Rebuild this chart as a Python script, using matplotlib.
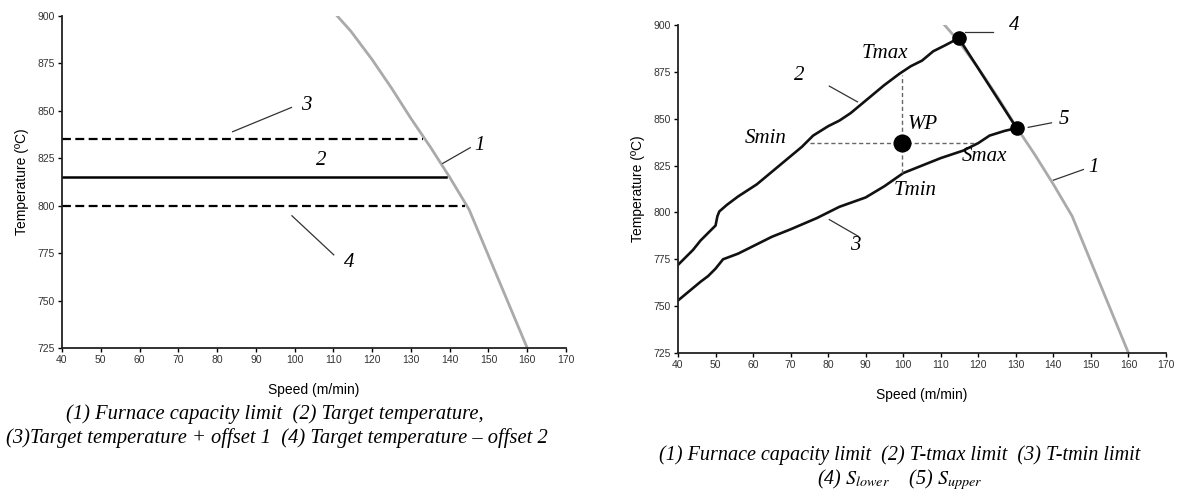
import matplotlib
matplotlib.use("Agg")
import matplotlib.pyplot as plt

plt.rcParams['font.family'] = ['Liberation Sans', 'DejaVu Sans']
plt.rcParams['mathtext.fontset'] = 'stix'

# ---- data ----
capacity_speed = [111, 114.5, 120, 125, 130, 135, 140, 145, 160]
capacity_temp = [900, 892, 877, 862, 846, 831, 815, 798, 725]

target_temp = 815
target_end = 139
upper_offset_temp = 835
upper_offset_end = 133
lower_offset_temp = 800
lower_offset_end = 144

tmax_speed = [40, 42, 44, 46, 48, 50, 50.5, 51, 53, 56, 61, 64, 67, 70, 73, 76, 80,
              83, 86, 89, 92, 95, 99, 102, 105, 108, 111, 114.8]
tmax_temp = [772, 776, 780, 785, 789, 793, 798, 800.5, 804, 808.5, 815, 820, 825, 830,
             835, 841, 846, 849, 853, 858, 863, 868, 874, 878, 881, 886, 889, 893]
tmin_speed = [40, 43, 46, 48, 50, 52, 56, 60, 65, 70, 77, 83, 90, 95, 100, 105, 110,
              116, 120, 123, 127, 130.2]
tmin_temp = [753, 758, 763, 766, 770, 775, 778, 782, 787, 791, 797, 803, 808, 814, 821,
             825, 829, 833, 837, 841, 843.5, 845]

s_lower = (114.8, 893)
s_upper = (130.2, 845)
wp = (99.6, 837)
s_min, s_max = 75.2, 119.5
t_min, t_max = 821, 873.5

xticks = list(range(40, 171, 10))
yticks = list(range(725, 901, 25))

W, H = 1178, 498
fig = plt.figure(figsize=(W / 100, H / 100), dpi=100)

serif = dict(family=['Liberation Serif', 'DejaVu Serif'], style='italic')
LBL = 15


def style_axes(ax):
    ax.set_xlim(40, 170)
    ax.set_ylim(725, 900)
    ax.set_xticks(xticks)
    ax.set_yticks(yticks)
    for s in ['top', 'right']:
        ax.spines[s].set_visible(False)
    for s in ['left', 'bottom']:
        ax.spines[s].set_linewidth(1.3)
        ax.spines[s].set_color('#222222')
    ax.tick_params(direction='out', length=3, width=1, labelsize=7.5,
                   labelcolor='#333333', pad=2)
    ax.set_ylabel('Temperature (ºC)', fontsize=10, labelpad=6)
    ax.set_xlabel('Speed (m/min)', fontsize=10, labelpad=13)


# ---------- left chart ----------
ax1 = fig.add_axes([62 / W, 1 - 348 / H, 504 / W, 332 / H])
style_axes(ax1)
ax1.plot(capacity_speed, capacity_temp, color='#aaaaaa', lw=2)
ax1.plot([40, upper_offset_end], [upper_offset_temp] * 2, color='black', lw=1.6,
         dashes=(4, 2))
ax1.plot([40, target_end], [target_temp] * 2, color='black', lw=1.8)
ax1.plot([40, lower_offset_end], [lower_offset_temp] * 2, color='black', lw=1.6,
         dashes=(4, 2))
# leaders
ax1.plot([84, 99.2], [839, 851.8], color='#333333', lw=0.9)
ax1.plot([138.2, 145.3], [822.3, 830.6], color='#333333', lw=0.9)
ax1.plot([99.3, 110.1], [794.7, 774.1], color='#333333', lw=0.9)
ax1.text(103, 853, '3', ha='center', va='center', fontsize=LBL, **serif)
ax1.text(106.8, 824, '2', ha='center', va='center', fontsize=LBL, **serif)
ax1.text(147.8, 831.6, '1', ha='center', va='center', fontsize=LBL, **serif)
ax1.text(114, 770, '4', ha='center', va='center', fontsize=LBL, **serif)

fig.text(275 / W, 1 - 414 / H, '(1) Furnace capacity limit  (2) Target temperature,',
         ha='center', va='center', fontsize=14.8, **serif)
fig.text(277 / W, 1 - 438 / H,
         '(3)Target temperature + offset 1  (4) Target temperature – offset 2',
         ha='center', va='center', fontsize=14.8, **serif)

# ---------- right chart ----------
ax2 = fig.add_axes([678 / W, 1 - 353 / H, 488 / W, 328 / H])
style_axes(ax2)
ax2.plot(capacity_speed, capacity_temp, color='#aaaaaa', lw=2)
ax2.plot(tmax_speed, tmax_temp, color='#111111', lw=1.9)
ax2.plot(tmin_speed, tmin_temp, color='#111111', lw=1.9)
ax2.plot([s_lower[0], s_upper[0]], [s_lower[1], s_upper[1]], color='#111111', lw=1.9)
# working point guides
ax2.plot([s_min, s_max], [wp[1], wp[1]], color='#666666', lw=1, dashes=(3, 2))
ax2.plot([wp[0], wp[0]], [t_min, t_max], color='#666666', lw=1, dashes=(3, 2))
ax2.plot(*wp, 'o', color='black', ms=12)
ax2.plot(*s_lower, 'o', color='black', ms=9.5)
ax2.plot(*s_upper, 'o', color='black', ms=9.5)
# leaders
ax2.plot([80.3, 87.8], [867.4, 859], color='#333333', lw=0.9)
ax2.plot([80.3, 88], [796.2, 787.3], color='#333333', lw=0.9)
ax2.plot([116.5, 123.8], [896, 896], color='#333333', lw=0.9)
ax2.plot([133.3, 139.5], [845.4, 847.8], color='#333333', lw=0.9)
ax2.plot([140, 148], [817.2, 822.9], color='#333333', lw=0.9)
ax2.text(72.2, 873.3, '2', ha='center', va='center', fontsize=LBL, **serif)
ax2.text(87.1, 782.5, '3', ha='center', va='center', fontsize=LBL, **serif)
ax2.text(129.5, 899.5, '4', ha='center', va='center', fontsize=LBL, **serif)
ax2.text(142.9, 849.6, '5', ha='center', va='center', fontsize=LBL, **serif)
ax2.text(150.6, 824, '1', ha='center', va='center', fontsize=LBL, **serif)
ax2.text(95.1, 885, 'Tmax', ha='center', va='center', fontsize=LBL, **serif)
ax2.text(63.4, 839.5, 'Smin', ha='center', va='center', fontsize=LBL, **serif)
ax2.text(105.3, 847.1, 'WP', ha='center', va='center', fontsize=LBL, **serif)
ax2.text(121.5, 829.7, 'Smax', ha='center', va='center', fontsize=LBL, **serif)
ax2.text(103.1, 811.5, 'Tmin', ha='center', va='center', fontsize=LBL, **serif)

fig.text(900 / W, 1 - 455 / H,
         '(1) Furnace capacity limit  (2) T-tmax limit  (3) T-tmin limit',
         ha='center', va='center', fontsize=14.5, **serif)
fig.text(900 / W, 1 - 480 / H,
         r'(4) $\mathit{S}_{\mathit{lower}}$    (5) $\mathit{S}_{\mathit{upper}}$',
         ha='center', va='center', fontsize=14.5, **serif)

fig.savefig('out.png', dpi=100)
